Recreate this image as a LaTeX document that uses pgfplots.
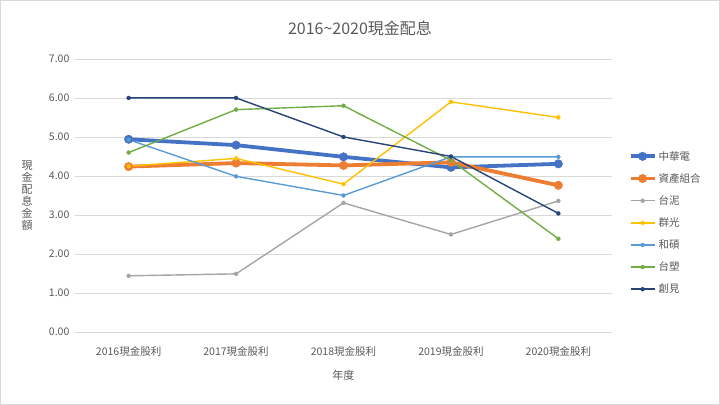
\documentclass[border=0pt]{standalone}
\usepackage{pgfplots}
\pgfplotsset{compat=1.18}
\usepackage{fontspec}
\setmainfont{Noto Sans CJK TC}
\definecolor{cA}{HTML}{4472C4}
\definecolor{cB}{HTML}{ED7D31}
\definecolor{cC}{HTML}{A5A5A5}
\definecolor{cD}{HTML}{FFC000}
\definecolor{cE}{HTML}{5B9BD5}
\definecolor{cF}{HTML}{70AD47}
\definecolor{cG}{HTML}{264478}
\definecolor{gridc}{HTML}{D9D9D9}
\definecolor{txt}{HTML}{595959}
\begin{document}
\begin{tikzpicture}[x=1pt,y=1pt]
\draw[gridc, line width=0.8pt] (0.5,0.5) rectangle (719.5,404.5);
\node[txt, font=\fontsize{16}{18}\selectfont] at (360,377) {2016\textasciitilde2020現金配息};
\begin{axis}[
  at={(75pt,73pt)}, anchor=south west,
  scale only axis, width=537pt, height=273pt,
  xmin=-0.5, xmax=4.5, ymin=0, ymax=7,
  xtick={0,1,2,3,4},
  xticklabels={2016現金股利,2017現金股利,2018現金股利,2019現金股利,2020現金股利},
  ytick={0,1,...,7},
  yticklabel style={/pgf/number format/fixed, /pgf/number format/fixed zerofill, /pgf/number format/precision=2, xshift=-2pt},
  /pgf/number format/assume math mode=true,
  ymajorgrids, grid style={gridc, line width=0.8pt},
  axis line style={draw=none},
  major tick length=0pt,
  tick label style={font=\fontsize{10.5}{12}\selectfont, text=txt},
  xticklabel style={yshift=-11pt},
  xlabel={年度}, xlabel style={font=\fontsize{11}{12}\selectfont, text=txt, at={(axis description cs:0.5,-0.157)}, anchor=center},
  ylabel={現\\金\\配\\息\\金\\額},
  ylabel style={rotate=-90, align=center, font=\fontsize{11}{12}\selectfont, text=txt, at={(axis description cs:-0.089,0.5)}, anchor=center},
  legend style={at={(1.025,0.40)}, anchor=west, draw=none, font=\fontsize{10.5}{12}\selectfont, text=txt, row sep=7.8pt, /tikz/every even column/.append style={column sep=2pt}},
  legend cell align=left,
  legend image code/.code={\draw[#1] (0pt,0pt) -- (24pt,0pt); \draw[#1,mark repeat=1] plot coordinates {(12pt,0pt)};},
  clip=false,
]
\addplot[cA, line width=3.8pt, mark=*, mark size=4.2pt, mark options={line width=0.5pt}] coordinates {(0,4.94) (1,4.79) (2,4.49) (3,4.22) (4,4.31)};
\addlegendentry{中華電}
\addplot[cB, line width=3.8pt, mark=*, mark size=4.2pt, mark options={line width=0.5pt}] coordinates {(0,4.24) (1,4.33) (2,4.27) (3,4.35) (4,3.76)};
\addlegendentry{資產組合}
\addplot[cC, line width=1.4pt, mark=*, mark size=2pt, mark options={line width=0.3pt}] coordinates {(0,1.44) (1,1.49) (2,3.31) (3,2.50) (4,3.36)};
\addlegendentry{台泥}
\addplot[cD, line width=1.4pt, mark=*, mark size=2pt, mark options={line width=0.3pt}] coordinates {(0,4.25) (1,4.45) (2,3.79) (3,5.90) (4,5.50)};
\addlegendentry{群光}
\addplot[cE, line width=1.4pt, mark=*, mark size=2pt, mark options={line width=0.3pt}] coordinates {(0,4.93) (1,3.99) (2,3.50) (3,4.49) (4,4.49)};
\addlegendentry{和碩}
\addplot[cF, line width=1.4pt, mark=*, mark size=2pt, mark options={line width=0.3pt}] coordinates {(0,4.60) (1,5.70) (2,5.80) (3,4.40) (4,2.39)};
\addlegendentry{台塑}
\addplot[cG, line width=1.4pt, mark=*, mark size=2pt, mark options={line width=0.3pt}] coordinates {(0,6.00) (1,6.00) (2,5.00) (3,4.50) (4,3.04)};
\addlegendentry{創見}
\end{axis}
\end{tikzpicture}
\end{document}
